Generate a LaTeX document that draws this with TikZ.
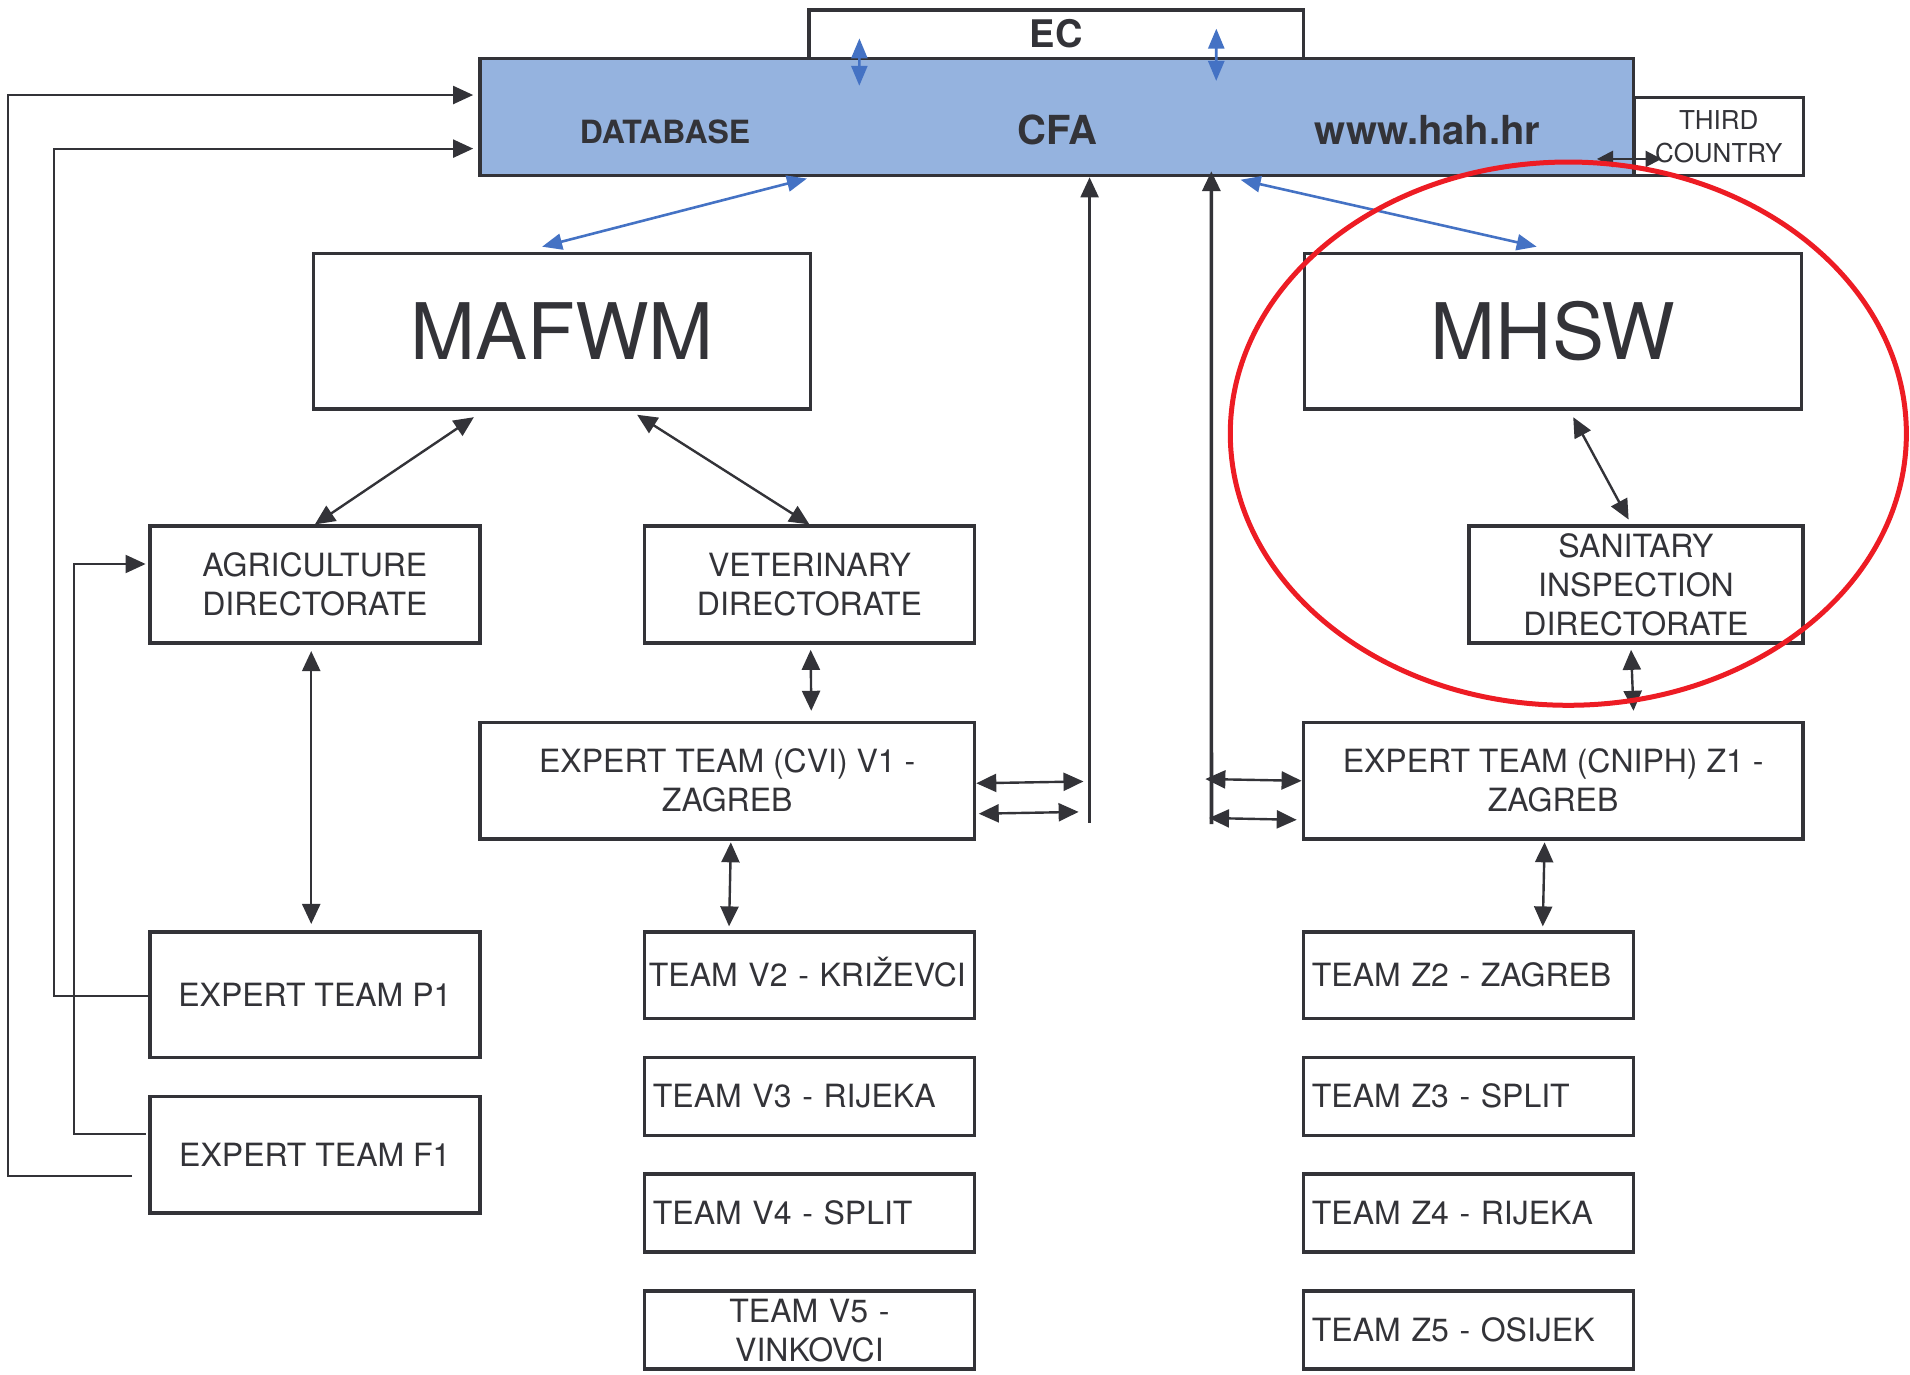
\documentclass[tikz,border=0pt]{standalone}
\usepackage{fontspec}
\setmainfont{TeX Gyre Heros}
\usepackage{xcolor}
\usepackage{tikz}
\usetikzlibrary{calc,arrows.meta}
\definecolor{ink}{RGB}{51,51,56}
\definecolor{cfafill}{RGB}{149,179,223}
\definecolor{linkblue}{RGB}{68,114,196}
\definecolor{ringred}{RGB}{237,28,36}
\newcommand{\pxu}{0.609pt}
\tikzset{
  dim/.style 2 args={minimum width=#1*\pxu,minimum height=#2*\pxu},
  box/.style={draw=ink,line width=1.8pt,fill=white,text=ink,align=center,inner sep=0pt,font=\fontsize{16}{19.5}\selectfont},
  bigbox/.style={box,dim={408}{128},font=\fontsize{39}{45}\selectfont},
  dirbox/.style={box,dim={271}{96}},
  teambox/.style={box,dim={271}{64},text width=156.5pt,align=left,inner xsep=4.2pt},
  cfabar/.style={draw=ink,line width=1.9pt,fill=cfafill,dim={947}{96}},
  bartext/.style={text=ink,font=\fontsize{#1}{#1}\selectfont\bfseries},
  link/.style={draw=ink,line width=1.2pt,{Triangle[length=10pt,width=9pt]}-{Triangle[length=10pt,width=9pt]}},
  smalllink/.style={draw=ink,line width=1.2pt,{Triangle[length=8pt,width=8pt]}-{Triangle[length=8pt,width=8pt]}},
  bluelink/.style={draw=linkblue,line width=1.3pt,{Triangle[length=10pt,width=8pt]}-{Triangle[length=10pt,width=8pt]}},
  uplink/.style={draw=ink,line width=#1,-{Triangle[length=10pt,width=9pt]}},
  feed/.style={draw=ink,line width=1pt,-{Triangle[length=10pt,width=9pt]}},
  ring/.style={draw=ringred,line width=2.5pt}
}
\begin{document}
\begin{tikzpicture}[x=\pxu,y=-\pxu]
  \useasboundingbox (0,0) rectangle (1568,1128);
  \node[box,dim={406}{40},font=\fontsize{19}{22}\selectfont\bfseries] (ec) at (867,28) {EC};
  \node[cfabar] (cfa) at (867.5,96) {};
  \node[bartext=16] (dbtext) at (546,108) {DATABASE};
  \node[bartext=20] (cfatext) at (868,107) {CFA};
  \node[bartext=20] (webtext) at (1172,107) {www.hah.hr};
  \node[box,dim={139}{64},font=\fontsize{13}{16.4}\selectfont] (third) at (1411,112) {THIRD\\COUNTRY};

  \node[bigbox] (mafwm) at (461.5,272) {MAFWM};
  \node[bigbox] (mhsw) at (1275,272) {MHSW};
  \node[dirbox] (agri) at (258.5,480) {AGRICULTURE\\DIRECTORATE};
  \node[dirbox] (vet) at (664.5,480) {VETERINARY\\DIRECTORATE};
  \node[dirbox,dim={274}{96}] (sid) at (1343,480) {SANITARY\\INSPECTION\\DIRECTORATE};
  \node[box,dim={406}{96}] (cvi) at (597,641) {EXPERT TEAM (CVI) V1 -\\ZAGREB};
  \node[box,dim={410}{96}] (cniph) at (1275,641) {EXPERT TEAM (CNIPH) Z1 -\\ZAGREB};
  \node[dirbox,dim={271}{103}] (p1) at (258.5,816.5) {EXPERT TEAM P1};
  \node[dirbox] (f1) at (258.5,948) {EXPERT TEAM F1};

  \node[teambox,dim={271}{71},text width=160.5pt,inner xsep=2.2pt,text height=11.6pt] (v2) at (664.5,800.5) {TEAM V2 - KRIŽEVCI};
  \node[teambox] (v3) at (664.5,900) {TEAM V3 - RIJEKA};
  \node[teambox] (v4) at (664.5,996) {TEAM V4 - SPLIT};
  \node[teambox,align=center] (v5) at (664.5,1092) {TEAM V5 -\\VINKOVCI};
  \node[teambox,dim={271}{71}] (z2) at (1205.5,800.5) {TEAM Z2 - ZAGREB};
  \node[teambox] (z3) at (1205.5,900) {TEAM Z3 - SPLIT};
  \node[teambox] (z4) at (1205.5,996) {TEAM Z4 - RIJEKA};
  \node[teambox] (z5) at (1205.5,1092) {TEAM Z5 - OSIJEK};

  \draw[bluelink] ($(ec.north west)+(43,25)$) -- ($(cfa.north west)+(313,24)$);
  \draw[bluelink] ($(ec.north west)+(336,17)$) -- ($(cfa.north west)+(606,20)$);
  \draw[bluelink] ($(cfa.south west)+(270,1)$) -- ($(mafwm.north west)+(189,-4)$);
  \draw[bluelink] ($(cfa.south west)+(626,2)$) -- ($(mhsw.north west)+(192,-4)$);
  \draw[smalllink] ($(third.south west)+(-29,-15)$) -- ($(third.south west)+(24,-15)$);

  \draw[link] ($(mafwm.south west)+(133,5)$) -- (agri.north);
  \draw[link] ($(mafwm.south west)+(267,3)$) -- (vet.north);
  \draw[link] ($(mhsw.south west)+(222,5)$) -- ($(sid.north)+(-6,-4)$);
  \draw[link] ($(sid.south)+(-4,4)$) -- ($(cniph.north)+(66,-8)$);
  \draw[link] ($(vet.south)+(1,4)$) -- ($(cvi.north)+(69,-8)$);
  \draw[link] ($(agri.south)+(-3,5)$) -- ($(p1.north)+(-3,-5)$);
  \draw[link] ($(cvi.south)+(3,1)$) -- ($(v2.north west)+(71,-3)$);
  \draw[link] ($(cniph.south)+(-7,1)$) -- ($(z2.north west)+(198,-3)$);

  \coordinate (cviup) at ($(cvi.north east)+(93,84)$);
  \draw[uplink=1.1pt] (cviup) -- (cviup |- cfa.south);
  \draw[link] ($(cvi.east)+(0,2)$) -- ($(cviup)+(-5,-34)$);
  \draw[link] ($(cvi.east)+(2,27)$) -- ($(cviup)+(-9,-9)$);

  \coordinate (cniphup) at ($(cniph.north west)+(-74,85)$);
  \draw[uplink=1.8pt] (cniphup) -- ($(cfa.south west)+(602,-5)$);
  \draw[link] ($(cniphup)+(-5,-37)$) -- (cniph.west);
  \draw[link] ($(cniphup)+(-2,-5)$) -- ($(cniph.west)+(-4,32)$);

  \draw[feed] ($(p1.west)+(0,1.5)$) -- ++(-77,0) |- ($(cfa.west)+(-4,26)$);
  \draw[feed] ($(f1.north west)+(-2,32)$) -- ++(-59,0) |- ($(agri.west)+(-2,-17)$);
  \draw[feed] ($(f1.west)+(-13,17)$) -- ++(-102,0) |- ($(cfa.west)+(-4,-18)$);

  \draw[ring] (1287.5,356) ellipse [x radius=169pt, y radius=135.8pt];
\end{tikzpicture}
\end{document}
